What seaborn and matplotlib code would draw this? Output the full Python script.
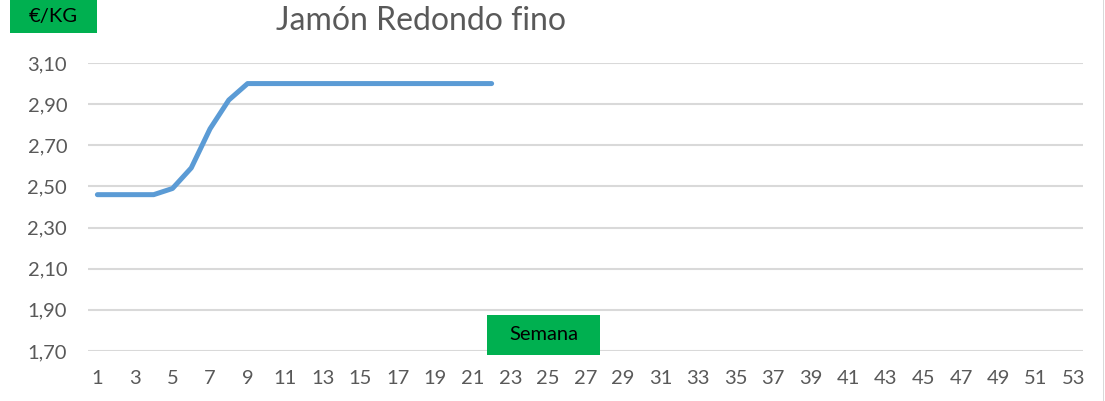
import seaborn as sns
import matplotlib.pyplot as plt
import pandas as pd
from matplotlib.patches import Rectangle

#data
weeks = list(range(1, 23))
price = [2.46, 2.46, 2.46, 2.46, 2.49, 2.59, 2.78, 2.92, 3.00, 3.00, 3.00,
         3.00, 3.00, 3.00, 3.00, 3.00, 3.00, 3.00, 3.00, 3.00, 3.00, 3.00]
all_weeks = list(range(1, 54))
y_ticks = [1.70, 1.90, 2.10, 2.30, 2.50, 2.70, 2.90, 3.10]
title = 'Jamón Redondo fino'

df = pd.DataFrame({'semana': weeks, 'precio': price})

sns.set_theme(style='white')
plt.rcParams['font.family'] = ['Lato', 'DejaVu Sans']

W, H = 1105, 401
fig = plt.figure(figsize=(W / 100, H / 100), dpi=100)
ax = fig.add_axes([88/W, 1 - 351/H, 995/W, 288/H])

sns.lineplot(data=df, x='semana', y='precio', ax=ax, color='#5B9BD5',
             linewidth=3.6, solid_capstyle='round')

#axes
ax.set_xlim(0.5, 53.5)
ax.set_ylim(1.70, 3.10)
ax.set_yticks(y_ticks)
ax.set_yticklabels([f'{v:.2f}'.replace('.', ',') for v in y_ticks])
ax.set_xticks(all_weeks[::2])
ax.set_xticklabels([str(w) for w in all_weeks[::2]])
ax.tick_params(axis='both', length=0, labelsize=14.5, labelcolor='#595959')
ax.tick_params(axis='y', pad=15)
ax.tick_params(axis='x', pad=14)
ax.yaxis.grid(True, color='#D9D9D9', linewidth=1.5)
ax.set_axisbelow(True)
for s in ax.spines.values():
    s.set_visible(False)
ax.set_xlabel('')
ax.set_ylabel('')

#title
fig.text(421/W, 1 - 21/H, title, ha='center', va='center',
         fontsize=23, color='#595959')

#green boxes (pixel positions)
def green_box(x0, y0, x1, y1, label):
    fig.patches.append(Rectangle((x0/W, 1 - y1/H), (x1 - x0)/W, (y1 - y0)/H,
                                 transform=fig.transFigure, facecolor='#00B050',
                                 edgecolor='none'))
    fig.text((x0 + x1)/2/W, 1 - (y0 + y1)/2/H, label, ha='center', va='center',
             fontsize=14.5, color='black')

green_box(10, 0, 97, 33, '€/KG')
green_box(487, 315, 600, 355, 'Semana')

#chart border on the right
fig.patches.append(Rectangle((1103/W, 0), 1/W, 1, transform=fig.transFigure,
                             facecolor='#D9D9D9', edgecolor='none'))

fig.savefig('out.png', dpi=100)
